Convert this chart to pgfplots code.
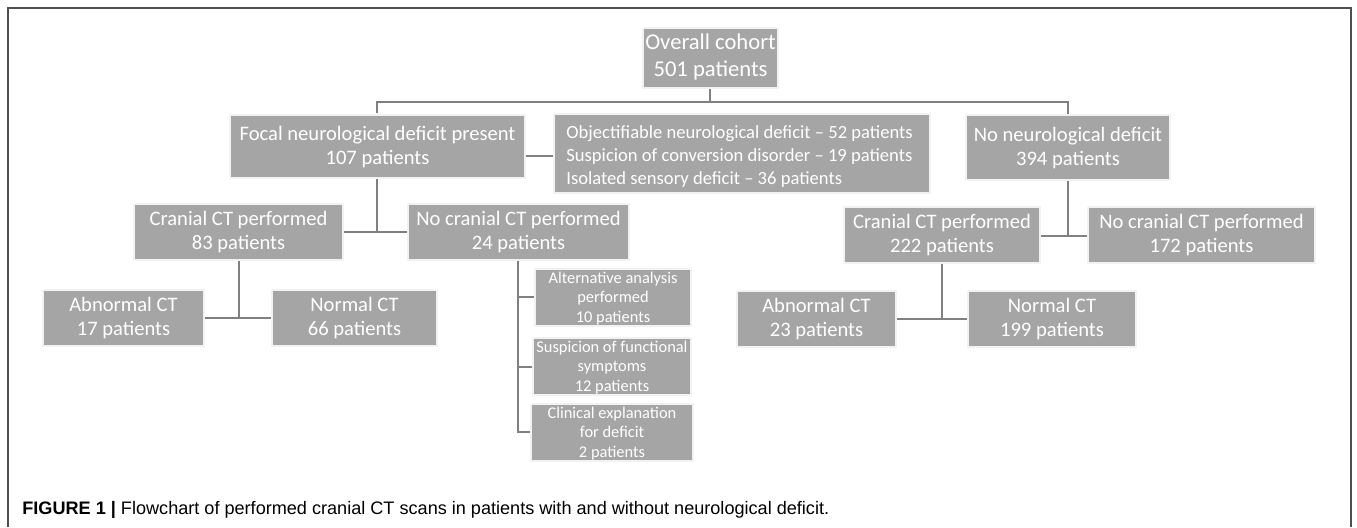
\documentclass[border=0pt]{standalone}
\usepackage{pgfplots}
\pgfplotsset{compat=1.18}
\usepackage{fontspec}
\setmainfont{Liberation Sans}
\newfontfamily\boxfont[Ligatures=TeX]{Carlito}
\definecolor{boxgray}{HTML}{A5A5A5}
\definecolor{linegray}{HTML}{808080}
\definecolor{framegray}{HTML}{505050}
\tikzset{
  bmain/.style={text=white, align=center, inner sep=0pt, font=\boxfont\fontsize{10.3}{12.2}\selectfont},
  btop/.style={text=white, align=center, inner sep=0pt, font=\boxfont\fontsize{11.3}{13.6}\selectfont},
  blst/.style={text=white, align=left, inner sep=0pt, anchor=west, font=\boxfont\fontsize{9.3}{11.7}\selectfont},
  bsub/.style={text=white, align=center, inner sep=0pt, font=\boxfont\fontsize{8.2}{9.7}\selectfont},
}
\newcommand{\gbox}[4]{\addplot[draw=white!85!boxgray,line width=0.6pt,fill=boxgray] coordinates {(#1,#2)(#3,#2)(#3,#4)(#1,#4)(#1,#2)};}
\newcommand{\conn}[1]{\addplot[linegray,line width=1pt] coordinates {#1};}
\begin{document}
\begin{tikzpicture}
\begin{axis}[
  width=678.5pt, height=263.5pt, scale only axis,
  xmin=0, xmax=1357, ymin=0, ymax=527, y dir=reverse,
  hide axis, clip=false,
]
% invisible extent
\addplot[draw=none] coordinates {(0,0)(1357,527)};
% frame
\addplot[framegray, line width=0.8pt] coordinates {(8,527)(8,8)(1351,8)(1351,527)};

% connectors
\conn{(710,88)(710,102)}
\conn{(377,113)(377,102)(1068,102)(1068,114)}
\conn{(525,156)(554,156)}
\conn{(377,178)(377,232)}
\conn{(343,232)(408,232)}
\conn{(1068,180)(1068,236)}
\conn{(1040,236)(1088,236)}
\conn{(239,260)(239,318)}
\conn{(204,318)(272,318)}
\conn{(518,260)(518,432)(531,432)}
\conn{(518,297)(535,297)}
\conn{(518,367)(533,367)}
\conn{(942,263)(942,319)}
\conn{(896,319)(968,319)}

% boxes
\gbox{643}{28}{778}{88}
\gbox{230}{115}{525}{178}
\gbox{554}{114}{930}{193}
\gbox{966}{115}{1170}{180}
\gbox{134}{204}{343}{260}
\gbox{408}{204}{629}{260}
\gbox{844}{207}{1040}{263}
\gbox{1088}{207}{1315}{263}
\gbox{43}{290}{204}{346}
\gbox{272}{290}{437}{346}
\gbox{535}{269}{691}{326}
\gbox{533}{338}{691}{395}
\gbox{531}{404}{693}{461}
\gbox{737}{291}{896}{347}
\gbox{968}{291}{1136}{347}

% texts
\node[btop] at (axis cs:710.5,57) {Overall cohort\\501 patients};
\node[bmain] at (axis cs:377.5,147) {Focal neurological deficit present\\107 patients};
\node[blst] at (axis cs:566,156.5) {Objectifiable neurological deficit – 52 patients\\Suspicion of conversion disorder – 19 patients\\Isolated sensory deficit – 36 patients};
\node[bmain] at (axis cs:1068,148) {No neurological deficit\\394 patients};
\node[bmain] at (axis cs:238.5,232) {Cranial CT performed\\83 patients};
\node[bmain] at (axis cs:518.5,232) {No cranial CT performed\\24 patients};
\node[bmain] at (axis cs:942,235) {Cranial CT performed\\222 patients};
\node[bmain] at (axis cs:1201.5,235) {No cranial CT performed\\172 patients};
\node[bmain] at (axis cs:123.5,318) {Abnormal CT\\17 patients};
\node[bmain] at (axis cs:354.5,318) {Normal CT\\66 patients};
\node[bmain] at (axis cs:816.5,319) {Abnormal CT\\23 patients};
\node[bmain] at (axis cs:1052,319) {Normal CT\\199 patients};
\node[bsub] at (axis cs:613,298.5) {Alternative analysis\\performed\\10 patients};
\node[bsub] at (axis cs:612,367.5) {Suspicion of functional\\symptoms\\12 patients};
\node[bsub] at (axis cs:612,433.5) {Clinical explanation\\for deficit\\2 patients};

% caption
\node[anchor=base west, inner sep=0pt, font=\fontsize{9.05}{10}\selectfont] at (axis cs:22,514)
  {\textbf{FIGURE 1 |} Flowchart of performed cranial CT scans in patients with and without neurological deficit.};
\end{axis}
\end{tikzpicture}
\end{document}
